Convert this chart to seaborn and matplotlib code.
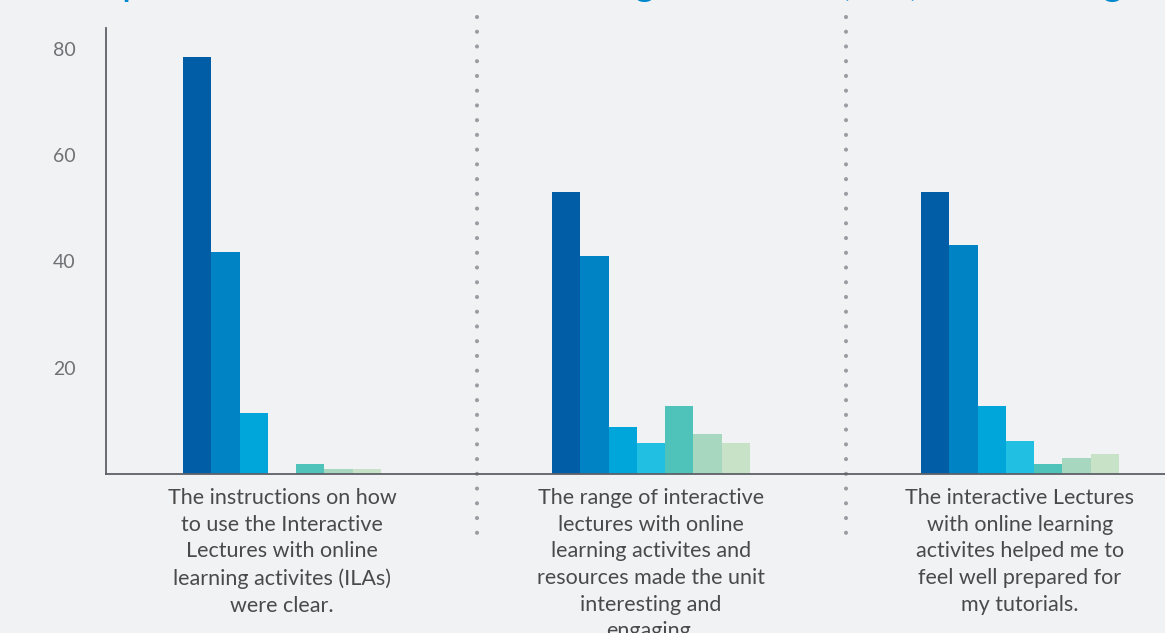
import matplotlib
matplotlib.use("Agg")
import matplotlib.pyplot as plt
import seaborn as sns
import pandas as pd

# ---- data ----
categories = [
    "The instructions on how\nto use the Interactive\nLectures with online\nlearning activites (ILAs)\nwere clear.",
    "The range of interactive\nlectures with online\nlearning activites and\nresources made the unit\ninteresting and\nengaging.",
    "The interactive Lectures\nwith online learning\nactivites helped me to\nfeel well prepared for\nmy tutorials.",
]
series = ["S1", "S2", "S3", "S4", "S5", "S6", "S7"]
values_q1 = [78.5, 41.8, 11.5, 0.0, 1.9, 1.0, 1.0]
values_q2 = [53.1, 41.0, 8.8, 5.8, 12.8, 7.5, 5.8]
values_q3 = [53.1, 43.1, 12.8, 6.3, 1.8, 3.0, 3.7]
ytick_values = [0, 10, 20, 30, 40, 50, 60, 70, 80]
ytick_labels = ["", "", "20", "", "40", "", "60", "", "80"]
title_text = "Responses to Interactive Learning Activities (ILA) in teaching"

colors = ["#015DA5", "#0083C5", "#00A6DA", "#21BFE1", "#4FC2B9", "#A8D7C0", "#C8E2C8"]
bg = "#F1F2F4"

rows = []
for cat, vals in zip(categories, [values_q1, values_q2, values_q3]):
    for s, v in zip(series, vals):
        rows.append({"question": cat, "series": s, "value": v})
df = pd.DataFrame(rows)

sns.set_style("white")
plt.rcParams["font.family"] = ["Lato", "DejaVu Sans"]
plt.rcParams["lines.scale_dashes"] = False

fig = plt.figure(figsize=(11.65, 6.33), dpi=100, facecolor=bg)
ax = fig.add_axes([106 / 1165, 1 - 474 / 633, 1 - 106 / 1165, (474 - 28) / 633])
ax.set_facecolor(bg)

sns.barplot(data=df, x="question", y="value", hue="series", order=categories,
            hue_order=series, palette=colors, width=0.536, gap=0, dodge=True,
            saturation=1, legend=False, ax=ax, linewidth=0, errorbar=None)

ax.set_xlabel("")
ax.set_ylabel("")

spine_c = "#5E6068"
for side in ["top", "right"]:
    ax.spines[side].set_visible(False)
for side in ["left", "bottom"]:
    ax.spines[side].set_color(spine_c)
    ax.spines[side].set_linewidth(1.3)

ax.set_yticks(ytick_values)
ax.set_yticklabels(ytick_labels)
ax.tick_params(axis="y", direction="out", length=10, width=1.2, color=spine_c,
               pad=12, labelsize=14, labelcolor="#707175")
ax.tick_params(axis="x", length=0, pad=10, labelsize=15.5, labelcolor="#4A4A4A")
for lab in ax.get_xticklabels():
    lab.set_linespacing(1.42)

# dotted separators between groups
for xs in [0.528, 1.528]:
    line = plt.Line2D([xs, xs], [(474 - 17) / 5.3125, -(547 - 474) / 5.3125],
                      transform=ax.transData, color="#9B9DA3", linewidth=3,
                      linestyle=(0, (0.01, 10.6)), dash_capstyle="round",
                      clip_on=False)
    ax.add_line(line)

ax.set_xlim(-0.477, 2.393)
ax.set_ylim(0, 83.95)

fig.text(58 / 1165, 1 + 5 / 633, title_text, color="#0088CE", fontsize=29,
         va="baseline", ha="left")

fig.savefig("out.png", dpi=100, facecolor=bg)
